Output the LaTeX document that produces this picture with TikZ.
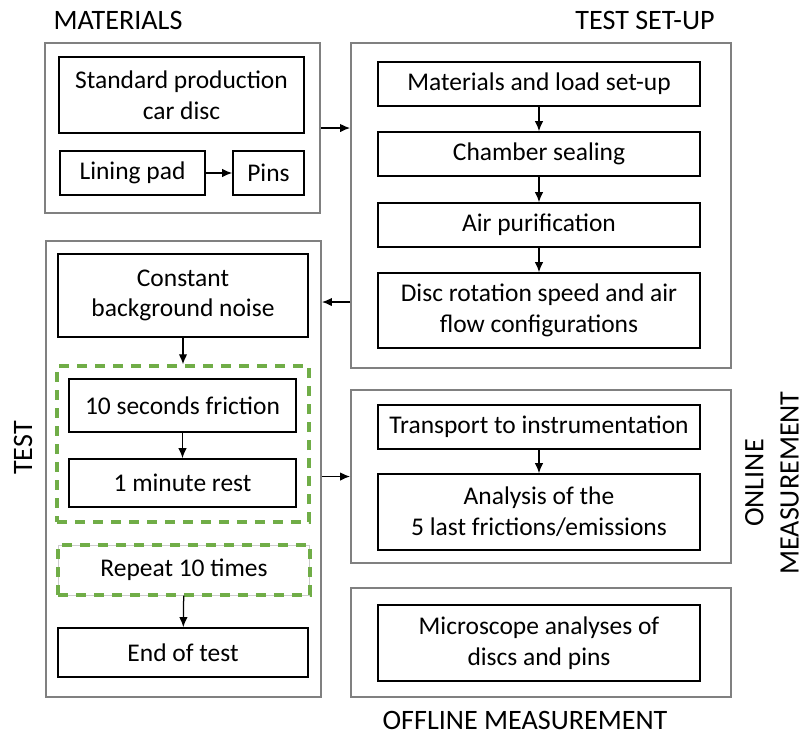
\documentclass[tikz,border=0pt]{standalone}
\usepackage{fontspec}
\setmainfont{Carlito}
\usepackage{tikz}
\usetikzlibrary{arrows.meta}

\definecolor{boxgray}{RGB}{128,128,128}
\definecolor{loopgreen}{RGB}{112,173,71}

\tikzset{
	grp/.style={draw=boxgray, line width=0.4mm, minimum width=#1},
	grp/.default=7.6cm,
	stepbox/.style={draw=black, line width=0.35mm, align=center, inner sep=2pt},
	loopbox/.style={draw=loopgreen, line width=0.7mm, dash pattern=on 2mm off 1.6mm},
	heading/.style={font=\fontsize{16}{20}\selectfont, align=center},
	arr/.style={-{Latex[length=2mm,width=1.7mm]}, line width=0.25mm}
}

\begin{document}
\begin{tikzpicture}[x=0.02cm, y=-0.02cm, font=\fontsize{14.5}{17.5}\selectfont]
		\useasboundingbox (0,0) rectangle (807,735);

		% group frames
		\node[grp=5.5cm, minimum height=3.4cm] (matbox) at (182.5,128) {};
		\node[grp, minimum height=6.5cm] (setupbox) at (541,205.5) {};
		\node[grp=5.5cm, minimum height=9.12cm] (testbox) at (183.5,469) {};
		\node[grp, minimum height=3.46cm] (onlinebox) at (541,476.5) {};
		\node[grp, minimum height=2.18cm] (offlinebox) at (541,642.5) {};

		% headings
		\node[heading] (mathead) at (118,20) {MATERIALS};
		\node[heading] (setuphead) at (645,20) {TEST SET-UP};
		\node[heading, rotate=90] (testhead) at (23,448) {TEST};
		\node[heading, rotate=90] (onlinehead) at (772,483) {ONLINE\\MEASUREMENT};
		\node[heading] (offlinehead) at (525,720) {OFFLINE MEASUREMENT};

		% materials
		\node[stepbox, minimum width=4.9cm, minimum height=1.52cm] (disc) at (181.5,95) {Standard production\\car disc};
		\node[stepbox, minimum width=2.9cm, minimum height=0.88cm] (lining) at (132.5,173) {Lining pad};
		\node[stepbox, minimum width=1.42cm, minimum height=0.88cm] (pins) at (268.5,173) {Pins};

		% test set-up
		\node[stepbox, minimum width=6.44cm, minimum height=0.88cm] (load) at (539,84) {Materials and load set-up};
		\node[stepbox, minimum width=6.44cm, minimum height=0.88cm] (seal) at (539,154) {Chamber sealing};
		\node[stepbox, minimum width=6.44cm, minimum height=0.88cm] (air) at (539,225) {Air purification};
		\node[stepbox, minimum width=6.44cm, minimum height=1.5cm] (rotation) at (539,310.5) {Disc rotation speed and air\\flow configurations};

		% test
		\node[stepbox, minimum width=5cm, minimum height=1.66cm] (noise) at (183,295.5) {Constant\\background noise};
		\node[loopbox, minimum width=5.04cm, minimum height=3.12cm] (loop) at (183,444) {};
		\node[stepbox, minimum width=4.54cm, minimum height=1.06cm] (friction) at (182.5,405.5) {10 seconds friction};
		\node[stepbox, minimum width=4.54cm, minimum height=0.96cm] (rest) at (182.5,483) {1 minute rest};
		\node[draw=gray!40, line width=0.2mm, minimum width=5.04cm, minimum height=1cm,
			postaction={loopbox, draw}] (repeat) at (184,570) {Repeat 10 times};
		\node[stepbox, minimum width=5cm, minimum height=0.98cm] (endtest) at (183,652.5) {End of test};

		% measurements
		\node[stepbox, minimum width=6.44cm, minimum height=0.88cm] (transport) at (539,427) {Transport to instrumentation};
		\node[stepbox, minimum width=6.44cm, minimum height=1.52cm] (analysis) at (539,512) {Analysis of the\\5 last frictions/emissions};
		\node[stepbox, minimum width=6.44cm, minimum height=1.52cm] (microscope) at (539,643) {Microscope analyses of\\discs and pins};

		% arrows
		\draw[arr] (lining) -- (pins);
		\draw[arr] (matbox.east) -- (matbox.east -| setupbox.west);
		\draw[arr] (load) -- (seal);
		\draw[arr] (seal) -- (air);
		\draw[arr] (air) -- (rotation);
		\draw[arr] ([yshift=0.17cm]rotation.west -| setupbox.west) -- ([yshift=0.17cm]rotation.west -| testbox.east);
		\draw[arr] (noise) -- (noise |- loop.north);
		\draw[arr] (friction) -- (rest);
		\draw[arr] (repeat) -- (endtest);
		\draw[arr] (testbox.east |- onlinebox.west) -- (onlinebox.west);
		\draw[arr] (transport) -- (analysis);

	\end{tikzpicture}
\end{document}
